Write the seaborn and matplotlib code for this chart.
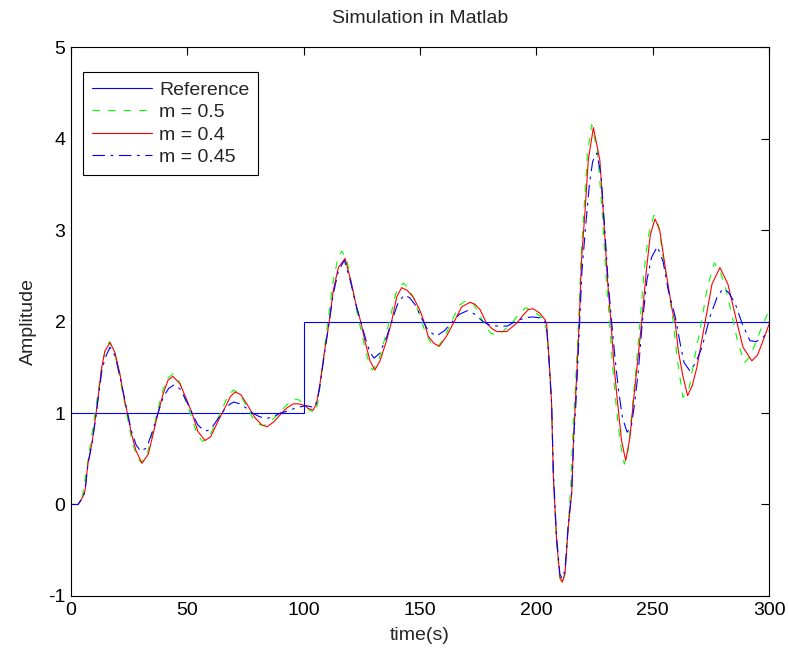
import matplotlib
matplotlib.use("Agg")
import matplotlib.pyplot as plt
import seaborn as sns
import pandas as pd

# Reference command: 1 until t = 100 s, then 2
ref_t = [0, 100, 100, 300]
ref_y = [1, 1, 2, 2]

# Closed-loop response, m = 0.5
m05_t = [0, 3, 5, 6.5, 8, 10.3, 12, 13.5, 15, 16.5, 18.5, 20.5, 22.5, 24, 26, 28, 30,
         32.5, 35, 37, 39.3, 41.5, 44, 46.5, 49, 51.5, 54, 56.5, 59, 62, 65, 67.5, 69.8,
         72, 75, 78, 80.5, 82.7, 85.5, 89.5, 92.5, 95.3, 97.5, 100, 102.5, 104.8, 106,
         107.5, 109, 110.7, 112.5, 114.5, 116.3, 118.5, 120.5, 122.5, 124, 126, 128,
         129.5, 132, 134.5, 137, 139.5, 142.8, 145, 147.5, 150, 152, 154.5, 157.5, 160.5,
         163.5, 167, 170, 173, 175.5, 178, 180.5, 183, 186, 190, 193, 195.5, 198, 201,
         203, 204.5, 205.5, 206.6, 207.3, 208.7, 210, 211, 212.2, 213.5, 214.8, 215.8,
         216.6, 218.2, 219.2, 220.6, 222, 223.8, 226.3, 228.3, 229.8, 231.5, 232.8, 234.3,
         236, 237.8, 239.5, 241, 242.7, 244.5, 246.3, 248, 250.5, 252.5, 254.5, 256,
         258.8, 260.5, 263, 265.5, 268, 271, 273.5, 276.5, 279, 281.5, 284, 286.5, 289.5,
         292, 295, 297.5, 300]
m05_y = [0, 0, 0.1, 0.35, 0.6, 1.0, 1.3, 1.55, 1.72, 1.78, 1.68, 1.45, 1.18, 0.98, 0.72,
         0.54, 0.46, 0.52, 0.78, 1.0, 1.24, 1.38, 1.43, 1.35, 1.15, 0.98, 0.78, 0.69,
         0.72, 0.88, 1.05, 1.19, 1.25, 1.22, 1.1, 0.95, 0.88, 0.86, 0.9, 1.0, 1.08, 1.15,
         1.15, 1.1, 1.03, 1.0, 1.1, 1.38, 1.72, 2.05, 2.42, 2.67, 2.77, 2.68, 2.42, 2.15,
         1.98, 1.75, 1.55, 1.47, 1.55, 1.78, 2.02, 2.3, 2.42, 2.37, 2.24, 2.06, 1.9, 1.77,
         1.72, 1.82, 2.0, 2.18, 2.23, 2.19, 2.08, 1.95, 1.87, 1.85, 1.9, 2.0, 2.1, 2.15,
         2.12, 2.07, 2.03, 1.9, 1.55, 1.05, 0.3, -0.42, -0.8, -0.87, -0.75, -0.3, 0.2,
         0.85, 1.2, 2.02, 2.7, 3.28, 3.85, 4.15, 3.85, 3.2, 2.55, 1.98, 1.5, 1.08, 0.68,
         0.44, 0.6, 1.0, 1.45, 1.98, 2.55, 2.92, 3.16, 3.05, 2.7, 2.48, 2.0, 1.6, 1.17,
         1.25, 1.6, 2.0, 2.38, 2.64, 2.55, 2.35, 2.08, 1.78, 1.55, 1.62, 1.82, 1.98, 2.12]

# Closed-loop response, m = 0.4
m04_t = [0, 3, 5, 6, 7.3, 9, 10.8, 12, 13.2, 14.6, 16.8, 18.9, 21, 22.8, 24.3, 26, 27.9,
         30.5, 33.2, 35.3, 37.4, 39.6, 41.7, 43.8, 46.8, 49.8, 52, 54.5, 57.6, 60, 63, 66,
         68.5, 70.5, 73, 76, 79, 82, 84.3, 87, 90.6, 93, 95.5, 98, 100.6, 102, 104, 105.5,
         107, 109, 111, 112.7, 114.9, 117.8, 120.6, 122.8, 124.5, 126.3, 128.5, 130.6,
         132.8, 135.6, 137.8, 140, 142.1, 144.5, 147, 150, 151.7, 153.5, 156, 158.3,
         161.4, 164.3, 167.9, 171.5, 173.5, 175.8, 178.6, 181, 183, 187.2, 191.5, 194,
         196.5, 198.6, 201.5, 203.7, 204.4, 205.4, 206.5, 207.3, 208.7, 210.1, 211.1,
         212.3, 213.7, 215.2, 215.9, 216.6, 218.4, 219.4, 220.9, 222.3, 224.5, 227.3, 229,
         230.5, 232.1, 233.3, 234.8, 236.6, 238.4, 240.2, 241.6, 243.1, 245.2, 247.4, 249,
         251, 253, 255.4, 258.4, 259.7, 261, 263, 265, 267, 269, 272.5, 275.5, 278.9,
         282.3, 286.2, 288.8, 292.6, 295, 297, 300]
m04_y = [0, 0, 0.08, 0.15, 0.45, 0.67, 1.0, 1.25, 1.5, 1.68, 1.77, 1.66, 1.43, 1.17, 0.99,
         0.77, 0.59, 0.45, 0.55, 0.77, 1.0, 1.21, 1.36, 1.4, 1.32, 1.14, 1.0, 0.8, 0.7,
         0.74, 0.9, 1.05, 1.18, 1.23, 1.2, 1.08, 0.95, 0.87, 0.85, 0.9, 1.0, 1.06, 1.1,
         1.1, 1.08, 1.05, 1.03, 1.1, 1.32, 1.68, 2.0, 2.34, 2.59, 2.69, 2.41, 2.15, 2.0,
         1.79, 1.57, 1.47, 1.57, 1.79, 2.0, 2.27, 2.37, 2.34, 2.27, 2.12, 2.0, 1.84, 1.76,
         1.73, 1.84, 1.98, 2.16, 2.21, 2.19, 2.13, 1.98, 1.92, 1.89, 1.89, 1.98, 2.06,
         2.13, 2.14, 2.09, 2.02, 1.98, 1.61, 1.14, 0.3, -0.39, -0.79, -0.85, -0.76, -0.25,
         0.12, 0.66, 1.03, 1.98, 2.67, 3.2, 3.76, 4.12, 3.76, 3.1, 2.48, 1.98, 1.54, 1.14,
         0.7, 0.48, 0.73, 1.1, 1.46, 1.98, 2.59, 2.95, 3.12, 3.0, 2.59, 2.12, 1.99, 1.68,
         1.4, 1.19, 1.3, 1.5, 1.99, 2.41, 2.59, 2.41, 1.99, 1.72, 1.57, 1.63, 1.76, 1.97]

# Closed-loop response, m = 0.45
m045_t = [0, 3, 5, 6, 7.3, 9, 10.8, 12, 13.2, 14.6, 16.8, 19, 21, 22.8, 24.3, 26, 28, 30,
          32.5, 35, 37.4, 39.6, 42, 44.5, 47, 49.8, 52, 54.5, 57.5, 60, 63, 66, 68.5, 70,
          72.5, 75, 78, 81, 84, 87, 90, 93, 96, 99, 101, 103, 104.5, 106, 107.3, 109, 111,
          112.7, 114.9, 117.5, 120, 122.5, 124.5, 126.5, 128.5, 130.3, 132.5, 135.3,
          137.8, 140.5, 143.2, 145.5, 148, 151, 153.5, 157, 160.5, 164, 167, 170.5, 173.5,
          177, 180, 183.5, 187.5, 191, 195, 198.5, 201.5, 203.5, 204.5, 205.5, 206.6,
          207.3, 208.7, 210.1, 211.1, 212.3, 213.7, 215.2, 216.2, 217, 218.6, 219.6,
          221.2, 222.8, 224.2, 226, 227.8, 229.3, 230.8, 232.4, 233.8, 235.3, 237, 239,
          240.8, 242.2, 243.8, 245.5, 247.5, 249.5, 252, 254.5, 256.7, 259.7, 261.8,
          263.5, 266, 268.5, 271.2, 274.6, 277.6, 280.2, 282.5, 285.4, 288.4, 291.8,
          294.5, 297.5, 300]
m045_y = [0, 0, 0.07, 0.14, 0.45, 0.66, 0.98, 1.22, 1.45, 1.6, 1.72, 1.62, 1.4, 1.18, 1.0,
          0.8, 0.65, 0.58, 0.62, 0.8, 1.0, 1.17, 1.27, 1.31, 1.26, 1.12, 1.0, 0.87, 0.8,
          0.82, 0.93, 1.04, 1.1, 1.12, 1.1, 1.06, 1.0, 0.96, 0.94, 0.96, 1.0, 1.02, 1.05,
          1.07, 1.08, 1.07, 1.06, 1.15, 1.35, 1.66, 2.0, 2.3, 2.55, 2.67, 2.45, 2.18, 2.0,
          1.82, 1.66, 1.6, 1.65, 1.8, 2.0, 2.2, 2.29, 2.26, 2.18, 2.02, 1.9, 1.84, 1.9,
          2.0, 2.08, 2.12, 2.08, 2.0, 1.96, 1.95, 1.95, 2.0, 2.04, 2.05, 2.04, 2.02, 1.9,
          1.55, 1.08, 0.35, -0.36, -0.76, -0.81, -0.72, -0.22, 0.15, 0.8, 1.1, 1.98, 2.55,
          3.05, 3.5, 3.75, 3.84, 3.6, 3.05, 2.45, 1.98, 1.6, 1.25, 0.95, 0.79, 0.85, 1.1,
          1.45, 1.98, 2.45, 2.7, 2.82, 2.65, 2.34, 2.05, 1.76, 1.55, 1.46, 1.55, 1.72,
          2.05, 2.26, 2.36, 2.32, 2.2, 1.98, 1.79, 1.78, 1.83, 1.9]

labels = ["Reference", "m = 0.5", "m = 0.4", "m = 0.45"]
x_ticks = [0, 50, 100, 150, 200, 250, 300]
y_ticks = [-1, 0, 1, 2, 3, 4, 5]

sns.set_theme(style="white")
plt.rcParams["font.family"] = ["Liberation Sans", "DejaVu Sans"]
plt.rcParams["lines.scale_dashes"] = False
plt.rcParams["axes.unicode_minus"] = False

fig = plt.figure(figsize=(7.89, 6.53), dpi=100, facecolor="white")
ax = fig.add_axes([0.09, 0.0873, 0.8847, 0.8407])
ax.set_facecolor("white")

frames = [
    pd.DataFrame({"t": ref_t, "y": ref_y}),
    pd.DataFrame({"t": m05_t, "y": m05_y}),
    pd.DataFrame({"t": m04_t, "y": m04_y}),
    pd.DataFrame({"t": m045_t, "y": m045_y}),
]
colors = ["#0000ff", "#00ff00", "#ff0000", "#0000ff"]
dashes = [None, (5.4, 5.8), None, (9, 4, 2, 4)]

for df, lab, col, dsh in zip(frames, labels, colors, dashes):
    sns.lineplot(data=df, x="t", y="y", ax=ax, color=col, label=lab, lw=0.8,
                 estimator=None, sort=False)
    if dsh is not None:
        ax.lines[-1].set_dashes(dsh)

ax.set_xlim(0, 300)
ax.set_ylim(-1, 5)
ax.set_xticks(x_ticks)
ax.set_yticks(y_ticks)
ax.tick_params(direction="in", length=5.5, width=0.8, top=True, right=True,
               labelsize=14, pad=4, colors="black")
for sp in ax.spines.values():
    sp.set_visible(True)
    sp.set_color("black")
    sp.set_linewidth(0.8)

ax.set_title("Simulation in Matlab", fontsize=14, pad=17)
ax.set_xlabel("time(s)", fontsize=14, labelpad=6)
ax.set_ylabel("Amplitude", fontsize=14, labelpad=8)

leg = ax.legend(loc="upper left", bbox_to_anchor=(0.0176, 0.954), borderaxespad=0,
                fontsize=14, frameon=True, fancybox=False, framealpha=1,
                edgecolor="black", handlelength=3.1, handletextpad=0.35,
                borderpad=0.45, labelspacing=0.25)
leg.get_frame().set_linewidth(0.8)

fig.savefig("out.png", dpi=100, facecolor="white")
